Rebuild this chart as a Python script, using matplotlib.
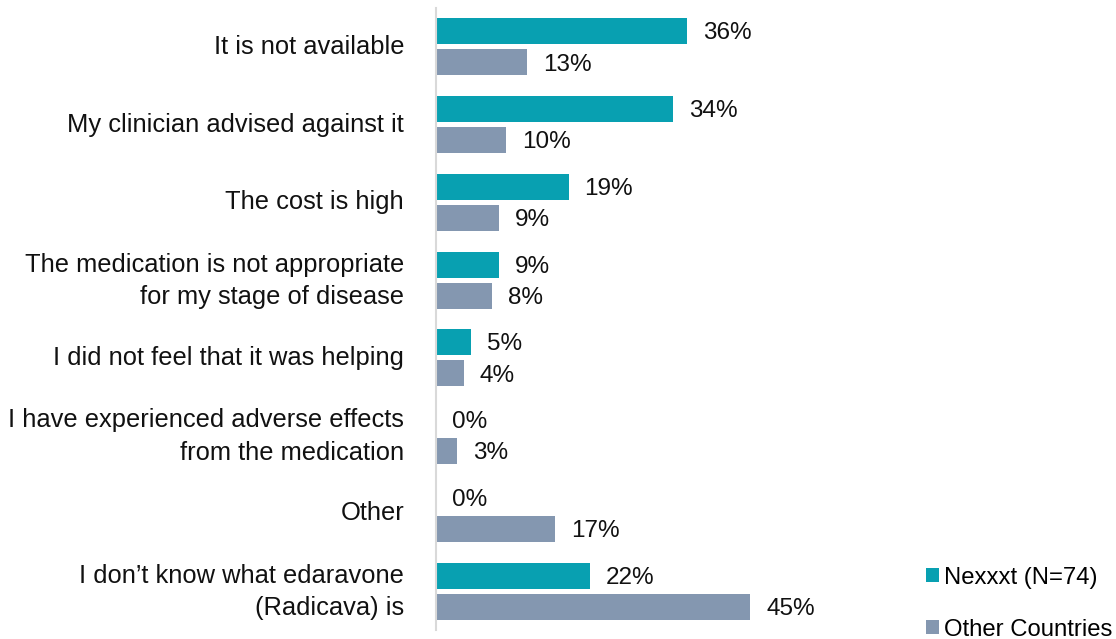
import matplotlib
matplotlib.use("Agg")
import matplotlib.pyplot as plt
from matplotlib.patches import Patch
from matplotlib.transforms import blended_transform_factory, ScaledTranslation
import numpy as np

plt.rcParams['font.family'] = ['Liberation Sans', 'DejaVu Sans']

categories = [
    "It is not available",
    "My clinician advised against it",
    "The cost is high",
    "The medication is not appropriate\nfor my stage of disease",
    "I did not feel that it was helping",
    "I have experienced adverse effects\nfrom the medication",
    "Other",
    "I don\u2019t know what edaravone\n(Radicava) is",
]
nexxxt = [36, 34, 19, 9, 5, 0, 0, 22]
other = [13, 10, 9, 8, 4, 3, 17, 45]
series_names = ["Nexxxt (N=74)", "Other Countries"]

teal = "#08A0B1"
gray = "#8497B0"

W, H = 1116, 639
fig = plt.figure(figsize=(W / 100, H / 100), dpi=100)
left_px, right_px, top_px, bot_px = 436, 900, 8, 630
ax = fig.add_axes([left_px / W, 1 - bot_px / H, (right_px - left_px) / W, (bot_px - top_px) / H])

y = np.arange(len(categories))
off = 0.2
h = 0.334
ax.barh(y - off, nexxxt, height=h, color=teal, label=series_names[0])
ax.barh(y + off, other, height=h, color=gray, label=series_names[1])

ax.set_ylim(len(categories) - 0.5, -0.5)
ax.set_xlim(0, (right_px - left_px) / 6.98)

for yi, v in zip(y, nexxxt):
    ax.annotate(f"{v}%", (v, yi - off), xytext=(11.5, -1.5), textcoords="offset points",
                va="center", ha="left", fontsize=17.5, color="#111111")
for yi, v in zip(y, other):
    ax.annotate(f"{v}%", (v, yi + off), xytext=(11.5, -1.5), textcoords="offset points",
                va="center", ha="left", fontsize=17.5, color="#111111")

ax.set_yticks([])
ax.set_xticks([])
base = blended_transform_factory(ax.transAxes, ax.transData)
for yi, lab in zip(y, categories):
    dy = -1 if "\n" in lab else 0
    tr = base + ScaledTranslation(-32 / 100, dy / 100, fig.dpi_scale_trans)
    ax.text(0, yi, lab, transform=tr, ha="right", va="center", multialignment="right",
            fontsize=18.35, linespacing=1.45, color="#111111")

for s in ["top", "right", "bottom"]:
    ax.spines[s].set_visible(False)
ax.spines["left"].set_color("#D9D9D9")
ax.spines["left"].set_linewidth(1.5)

handles = [Patch(facecolor=teal), Patch(facecolor=gray)]
fig.legend(handles, series_names, loc="lower left", bbox_to_anchor=(904 / W, -0.036),
           frameon=False, fontsize=17.2, handlelength=0.55, handleheight=0.55,
           handletextpad=0.22, labelspacing=1.25)

fig.savefig("out.png", dpi=100)
